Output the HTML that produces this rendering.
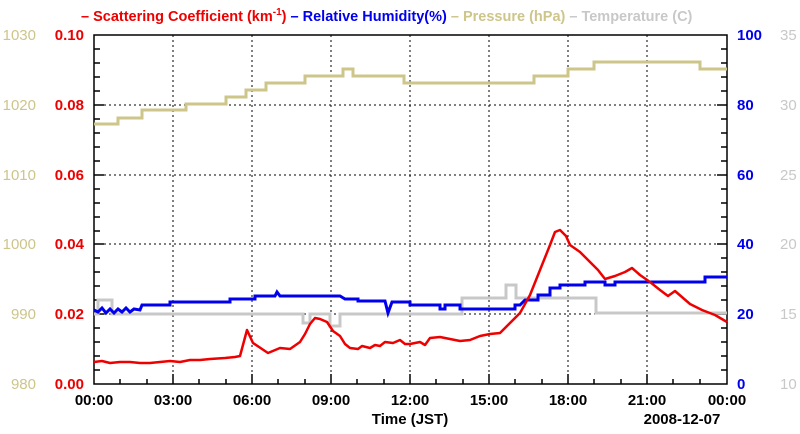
<!DOCTYPE html>
<html><head><style>body{margin:0;background:#fff}svg{display:block}text{font-family:"Liberation Sans",sans-serif;font-weight:bold}</style></head><body>
<svg width="800" height="434" viewBox="0 0 800 434">
<g stroke="#000" stroke-dasharray="2,3" stroke-width="1">
<line x1="173" y1="35" x2="173" y2="384"/><line x1="252" y1="35" x2="252" y2="384"/><line x1="331" y1="35" x2="331" y2="384"/><line x1="410" y1="35" x2="410" y2="384"/><line x1="489" y1="35" x2="489" y2="384"/><line x1="568" y1="35" x2="568" y2="384"/><line x1="647" y1="35" x2="647" y2="384"/>
<line x1="94" y1="105" x2="727" y2="105"/><line x1="94" y1="175" x2="727" y2="175"/><line x1="94" y1="244" x2="727" y2="244"/><line x1="94" y1="314" x2="727" y2="314"/>
</g>
<g stroke="#000" stroke-width="1.5">
<path d="M94,35V384H727V35Z" fill="none"/>
<path d="M94,49h6M94,63h6M94,77h6M94,91h6M94,105h10M94,119h6M94,133h6M94,147h6M94,161h6M94,175h10M94,189h6M94,203h6M94,217h6M94,231h6M94,244h10M94,258h6M94,272h6M94,286h6M94,300h6M94,314h10M94,328h6M94,342h6M94,356h6M94,370h6"/>
<path d="M727,49h-6M727,63h-6M727,77h-6M727,91h-6M727,105h-10M727,119h-6M727,133h-6M727,147h-6M727,161h-6M727,175h-10M727,189h-6M727,203h-6M727,217h-6M727,231h-6M727,244h-10M727,258h-6M727,272h-6M727,286h-6M727,300h-6M727,314h-10M727,328h-6M727,342h-6M727,356h-6M727,370h-6"/>
<path d="M120,384v-5M147,384v-5M173,384v-10M199,384v-5M226,384v-5M252,384v-10M278,384v-5M305,384v-5M331,384v-10M357,384v-5M384,384v-5M410,384v-10M436,384v-5M463,384v-5M489,384v-10M515,384v-5M542,384v-5M568,384v-10M594,384v-5M621,384v-5M647,384v-10M673,384v-5M700,384v-5"/>
</g>
<path d="M94,124H118V118H142V110H186V104H226V97H246V90H266V83H305V76H343V69H353V76H404V83H534V76H568V69H594V62H700V69H727" fill="none" stroke="#cdc58a" stroke-width="3"/>
<path d="M94,314H98V300H112V314H303V323H310V314H330V326H340V314H462V298H506V285H516V298H596V313H727" fill="none" stroke="#c8c8c8" stroke-width="3"/>
<path d="M94,310L98,312L102,308L106,313L110,309L114,313L118,309L122,312L126,308L130,312L134,309L140,310L142,305L170,305V302H230V299H255V296H275L277,292L280,296H340L345,299H358V301H385L388,313L392,302H410V305H440V309H445V305H460V309H515V305H520L525,300H538V295H550V288H560V285H585V282H605V285H615V282H705V277H727" fill="none" stroke="#0000ee" stroke-width="3"/>
<path d="M94,362L102,361L110,363L120,362L130,362L140,363L150,363L160,362L170,361L180,362L190,360L200,360L210,359L225,358L235,357L240,356L247,330L253,343L265,351L268,353L280,348L290,349L300,342L305,334L310,324L315,318L320,319L327,322L333,331L340,336L345,344L350,348L358,349L362,346L370,348L375,345L380,346L385,342L393,343L400,340L405,344L410,344L420,342L425,345L430,338L440,337L450,339L460,341L470,340L480,336L490,334L500,333L510,323L520,313L530,295L540,270L550,245L555,232L560,230L566,236L570,245L580,252L590,262L598,270L605,279L615,276L625,272L632,268L640,275L650,282L660,290L668,296L675,291L690,304L702,310L715,315L727,322" fill="none" stroke="#ee0000" stroke-width="2.5" stroke-linejoin="round"/>
<g font-size="15" text-anchor="end">
<g fill="#ee0000"><text x="84" y="40">0.10</text><text x="84" y="110">0.08</text><text x="84" y="180">0.06</text><text x="84" y="249">0.04</text><text x="84" y="319">0.02</text><text x="84" y="389">0.00</text></g>
<g fill="#cdc58a"><text x="36" y="40" style="font-weight:normal">1030</text><text x="36" y="110" style="font-weight:normal">1020</text><text x="36" y="180" style="font-weight:normal">1010</text><text x="36" y="249" style="font-weight:normal">1000</text><text x="36" y="319" style="font-weight:normal">990</text><text x="36" y="389" style="font-weight:normal">980</text></g>
</g>
<g font-size="15" text-anchor="start">
<g fill="#0000ee"><text x="737" y="40">100</text><text x="737" y="110">80</text><text x="737" y="180">60</text><text x="737" y="249">40</text><text x="737" y="319">20</text><text x="737" y="389">0</text></g>
<g fill="#c8c8c8"><text x="780" y="40" style="font-weight:normal">35</text><text x="780" y="110" style="font-weight:normal">30</text><text x="780" y="180" style="font-weight:normal">25</text><text x="780" y="249" style="font-weight:normal">20</text><text x="780" y="319" style="font-weight:normal">15</text><text x="780" y="389" style="font-weight:normal">10</text></g>
</g>
<g font-size="15" text-anchor="middle" fill="#000"><text x="94" y="405">00:00</text><text x="173" y="405">03:00</text><text x="252" y="405">06:00</text><text x="331" y="405">09:00</text><text x="410" y="405">12:00</text><text x="489" y="405">15:00</text><text x="568" y="405">18:00</text><text x="647" y="405">21:00</text><text x="727" y="405">00:00</text>
<text x="410" y="424">Time (JST)</text><text x="682" y="424">2008-12-07</text></g>
<text x="81" y="21" font-size="14.5"><tspan fill="#ee0000">– Scattering Coefficient (km</tspan><tspan fill="#ee0000" dy="-6" font-size="10">-1</tspan><tspan fill="#ee0000" dy="6">)</tspan><tspan fill="#0000ee"> – Relative Humidity(%)</tspan><tspan fill="#cdc58a"> – Pressure (hPa)</tspan><tspan fill="#c8c8c8"> – Temperature (C)</tspan></text>
</svg>
</body></html>
